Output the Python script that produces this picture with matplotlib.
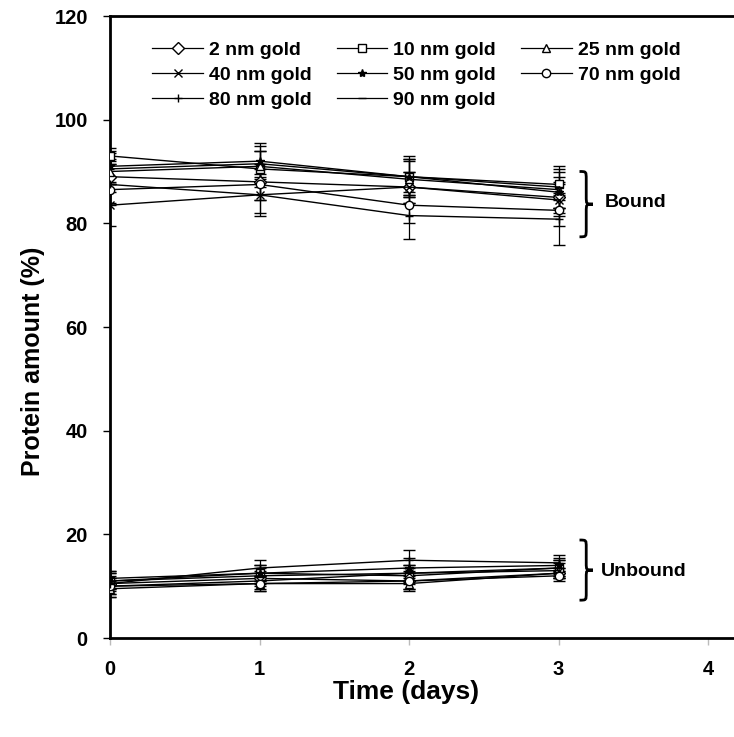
import matplotlib
matplotlib.use("Agg")
import matplotlib.pyplot as plt
from matplotlib.path import Path
from matplotlib.patches import PathPatch

plt.rcParams['font.family'] = ['Liberation Sans', 'DejaVu Sans']
plt.rcParams['font.weight'] = 'bold'

days = [0, 1, 2, 3]
series_labels = ['2 nm gold', '10 nm gold', '25 nm gold', '40 nm gold',
                 '50 nm gold', '70 nm gold', '80 nm gold', '90 nm gold']
markers = ['D', 's', '^', 'x', '*', 'o', '+', '_']

bound_2 = [89.0, 88.0, 87.0, 85.0]
bound_10 = [93.0, 90.5, 89.0, 87.5]
bound_25 = [90.0, 91.0, 88.5, 86.5]
bound_40 = [83.5, 85.5, 87.0, 84.5]
bound_50 = [91.0, 92.0, 89.0, 86.0]
bound_70 = [86.5, 87.5, 83.5, 82.5]
bound_80 = [87.5, 85.5, 81.5, 80.8]
bound_90 = [90.5, 91.5, 89.0, 87.0]

bound_err_2 = [3.0, 3.5, 3.0, 3.0]
bound_err_10 = [1.5, 3.5, 3.5, 3.0]
bound_err_25 = [2.5, 3.0, 3.5, 3.5]
bound_err_40 = [4.0, 3.5, 3.0, 3.0]
bound_err_50 = [3.0, 3.5, 3.5, 3.0]
bound_err_70 = [2.5, 3.0, 3.5, 3.0]
bound_err_80 = [4.0, 4.0, 4.5, 5.0]
bound_err_90 = [3.0, 3.5, 4.0, 4.0]

unbound_2 = [10.5, 11.5, 11.0, 12.5]
unbound_10 = [11.0, 12.5, 12.0, 13.5]
unbound_25 = [9.5, 10.5, 10.5, 12.5]
unbound_40 = [10.0, 11.0, 12.5, 13.0]
unbound_50 = [11.5, 12.5, 13.5, 14.0]
unbound_70 = [10.0, 10.5, 11.0, 12.0]
unbound_80 = [10.5, 13.5, 15.0, 14.5]
unbound_90 = [11.0, 12.0, 12.5, 13.5]

unbound_err_2 = [1.5, 1.5, 1.5, 1.0]
unbound_err_10 = [1.5, 1.5, 1.5, 1.5]
unbound_err_25 = [1.5, 1.5, 1.5, 1.0]
unbound_err_40 = [1.5, 1.5, 1.5, 1.5]
unbound_err_50 = [1.5, 1.5, 2.0, 1.5]
unbound_err_70 = [1.5, 1.5, 1.5, 1.0]
unbound_err_80 = [2.5, 1.5, 2.0, 1.5]
unbound_err_90 = [1.5, 1.5, 1.5, 1.5]

bound = [bound_2, bound_10, bound_25, bound_40, bound_50, bound_70, bound_80, bound_90]
bound_err = [bound_err_2, bound_err_10, bound_err_25, bound_err_40,
             bound_err_50, bound_err_70, bound_err_80, bound_err_90]
unbound = [unbound_2, unbound_10, unbound_25, unbound_40, unbound_50,
           unbound_70, unbound_80, unbound_90]
unbound_err = [unbound_err_2, unbound_err_10, unbound_err_25, unbound_err_40,
               unbound_err_50, unbound_err_70, unbound_err_80, unbound_err_90]

W, H = 734, 737
fig = plt.figure(figsize=(W / 100, H / 100), dpi=100)
left, bottom, top = 110 / W, (H - 638) / H, (H - 16) / H
ax = fig.add_axes([left, bottom, 628 / W, top - bottom])

handles = []
for i in range(8):
    mfc = 'black' if markers[i] in ('*',) else 'white'
    for vals, errs in ((bound[i], bound_err[i]), (unbound[i], unbound_err[i])):
        ax.errorbar(days, vals, yerr=errs, color='black', lw=1.0,
                    marker=markers[i], ms=6, mfc=mfc, mec='black', mew=1.0,
                    capsize=4.5, elinewidth=0.9, capthick=0.9, zorder=3)
    handles.append(ax.plot([], [], color='black', lw=0.9, marker=markers[i], ms=6,
                           mfc=mfc, mec='black', mew=1.0)[0])

ax.set_xlim(0, 4.2)
ax.set_ylim(0, 120)
ax.set_xticks([0, 1, 2, 3, 4])
ax.set_yticks([0, 20, 40, 60, 80, 100, 120])
ax.tick_params(axis='both', direction='out', length=5, width=1, labelsize=14.5)
ax.tick_params(axis='y', pad=11)
ax.tick_params(axis='x', pad=11, color='#bbbbbb')
for lab in ax.get_xticklabels() + ax.get_yticklabels():
    lab.set_fontweight('bold')
for s in ('left', 'bottom', 'top'):
    ax.spines[s].set_linewidth(2)
ax.spines['right'].set_visible(False)

ax.set_xlabel('Time (days)', fontsize=19, fontweight='bold')
ax.set_ylabel('Protein amount (%)', fontsize=18, fontweight='bold')
ax.xaxis.set_label_coords((406 - 110) / 628, -0.068)
ax.yaxis.set_label_coords(-0.103, (638 - 361) / 622)

order = [0, 3, 6, 1, 4, 7, 2, 5]
leg = ax.legend([handles[k] for k in order], [series_labels[k] for k in order],
                ncol=3, frameon=False, loc='upper left',
                bbox_to_anchor=(0.055, 0.972), fontsize=14, handlelength=2.6,
                handletextpad=0.3, labelspacing=0.38, columnspacing=1.3,
                borderaxespad=0)


def brace(x, y0, y1, w):
    ym = (y0 + y1) / 2
    d = (y1 - y0) * 0.12
    xm = x + w / 2
    verts = [(x, y1), (xm, y1), (xm, y1), (xm, y1 - d),
             (xm, ym + d),
             (xm, ym), (xm, ym), (x + w, ym),
             (xm, ym), (xm, ym), (xm, ym - d),
             (xm, y0 + d),
             (xm, y0), (xm, y0), (x, y0)]
    codes = [Path.MOVETO, Path.CURVE4, Path.CURVE4, Path.CURVE4,
             Path.LINETO,
             Path.CURVE4, Path.CURVE4, Path.CURVE4,
             Path.CURVE4, Path.CURVE4, Path.CURVE4,
             Path.LINETO,
             Path.CURVE4, Path.CURVE4, Path.CURVE4]
    ax.add_patch(PathPatch(Path(verts, codes), fill=False, lw=2, color='black',
                           clip_on=False))


brace(3.14, 77.4, 90.0, 0.09)
brace(3.14, 7.3, 18.9, 0.09)
ax.text(3.31, 84.0, 'Bound', fontsize=14, fontweight='bold', va='center', ha='left')
ax.text(3.28, 12.8, 'Unbound', fontsize=14, fontweight='bold', va='center', ha='left')

fig.savefig('out.png', dpi=100)
